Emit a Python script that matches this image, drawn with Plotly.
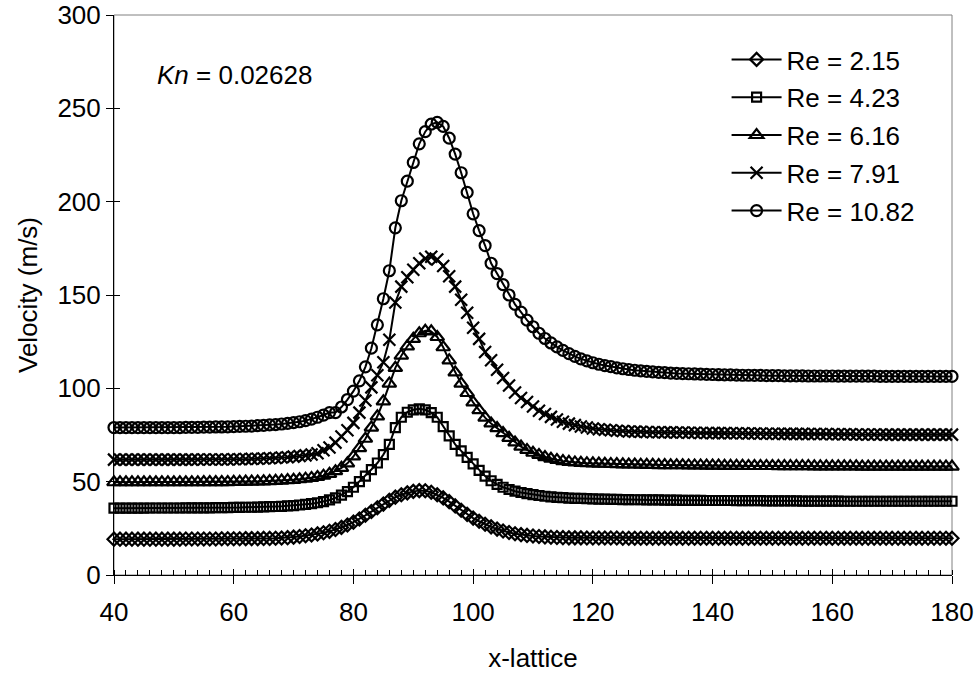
import plotly.graph_objects as go

# Lattice positions along the channel (one sample per lattice node)
x_lattice = list(range(40, 181))

reynolds_labels = ["Re = 2.15", "Re = 4.23", "Re = 6.16", "Re = 7.91", "Re = 10.82"]

vel_re_2_15 = [
    19.2, 19.2, 19.2, 19.2, 19.2, 19.2, 19.2, 19.2, 19.2, 19.2,
    19.2, 19.2, 19.3, 19.3, 19.3, 19.3, 19.3, 19.3, 19.4, 19.4,
    19.4, 19.4, 19.5, 19.5, 19.5, 19.6, 19.6, 19.7, 19.8, 20.0,
    20.3, 20.6, 21.0, 21.4, 22.0, 22.6, 23.4, 24.4, 25.5, 26.8,
    28.3, 30.0, 32.0, 34.0, 36.0, 38.0, 40.0, 41.7, 43.0, 44.0,
    44.8, 45.2, 45.1, 44.3, 43.0, 41.3, 39.3, 37.0, 34.7, 32.5,
    30.5, 28.8, 27.2, 25.8, 24.6, 23.6, 22.8, 22.1, 21.6, 21.2,
    20.9, 20.6, 20.4, 20.2, 20.1, 20.0, 19.9, 19.9, 19.9, 19.8,
    19.8, 19.8, 19.8, 19.8, 19.8, 19.7, 19.7, 19.7, 19.7, 19.7,
    19.7, 19.7, 19.7, 19.7, 19.7, 19.7, 19.7, 19.7, 19.7, 19.7,
    19.7, 19.7, 19.7, 19.7, 19.7, 19.7, 19.7, 19.7, 19.7, 19.7,
    19.7, 19.7, 19.7, 19.7, 19.7, 19.7, 19.7, 19.7, 19.7, 19.7,
    19.7, 19.7, 19.7, 19.7, 19.7, 19.7, 19.7, 19.7, 19.7, 19.7,
    19.7, 19.7, 19.7, 19.7, 19.7, 19.7, 19.7, 19.7, 19.7, 19.7,
    19.7,
]

vel_re_4_23 = [
    35.8, 35.8, 35.8, 35.8, 35.8, 35.8, 35.9, 35.9, 35.9, 35.9,
    35.9, 35.9, 36.0, 36.0, 36.0, 36.0, 36.0, 36.1, 36.1, 36.1,
    36.2, 36.2, 36.3, 36.3, 36.4, 36.5, 36.6, 36.7, 36.8, 37.0,
    37.2, 37.5, 37.8, 38.2, 38.7, 39.3, 40.2, 41.3, 42.8, 44.7,
    47.0, 50.0, 53.0, 56.5, 60.0, 64.5, 70.0, 79.0, 84.5, 87.2,
    88.5, 89.0, 88.5, 87.0, 84.5, 79.5, 74.5, 70.0, 66.5, 63.0,
    59.5, 56.0, 53.0, 50.5, 48.5, 47.0, 45.8, 44.9, 44.2, 43.6,
    43.1, 42.6, 42.2, 41.9, 41.6, 41.4, 41.2, 41.1, 41.0, 40.9,
    40.8, 40.7, 40.6, 40.5, 40.5, 40.4, 40.4, 40.3, 40.3, 40.2,
    40.2, 40.2, 40.1, 40.1, 40.1, 40.0, 40.0, 40.0, 40.0, 39.9,
    39.9, 39.9, 39.9, 39.9, 39.8, 39.8, 39.8, 39.8, 39.8, 39.7,
    39.7, 39.7, 39.7, 39.7, 39.7, 39.6, 39.6, 39.6, 39.6, 39.6,
    39.6, 39.6, 39.5, 39.5, 39.5, 39.5, 39.5, 39.5, 39.5, 39.5,
    39.5, 39.5, 39.5, 39.5, 39.5, 39.5, 39.5, 39.5, 39.5, 39.5,
    39.5,
]

vel_re_6_16 = [
    49.7, 49.7, 49.7, 49.7, 49.7, 49.7, 49.7, 49.7, 49.7, 49.7,
    49.7, 49.7, 49.7, 49.7, 49.7, 49.8, 49.8, 49.8, 49.8, 49.8,
    49.9, 49.9, 50.0, 50.0, 50.1, 50.2, 50.3, 50.4, 50.6, 50.8,
    51.0, 51.3, 51.6, 52.0, 52.5, 53.2, 54.2, 55.6, 57.4, 59.8,
    63.5, 68.0, 73.0, 79.0, 85.0, 93.0, 102.5, 111.0, 117.5, 122.5,
    126.5, 129.5, 130.8, 130.5, 127.5, 122.0, 115.0, 108.5, 102.5, 97.5,
    92.5, 88.3, 84.3, 81.2, 78.7, 76.0, 73.5, 71.0, 68.8, 67.0,
    65.5, 64.3, 63.2, 62.3, 61.6, 61.0, 60.6, 60.3, 60.1, 59.9,
    59.8, 59.7, 59.6, 59.5, 59.4, 59.3, 59.2, 59.2, 59.1, 59.0,
    59.0, 58.9, 58.9, 58.8, 58.8, 58.8, 58.7, 58.7, 58.7, 58.6,
    58.6, 58.6, 58.5, 58.5, 58.5, 58.5, 58.4, 58.4, 58.4, 58.4,
    58.4, 58.3, 58.3, 58.3, 58.3, 58.3, 58.3, 58.2, 58.2, 58.2,
    58.2, 58.2, 58.2, 58.2, 58.2, 58.1, 58.1, 58.1, 58.1, 58.1,
    58.1, 58.1, 58.1, 58.1, 58.1, 58.1, 58.1, 58.1, 58.1, 58.1,
    58.1,
]

vel_re_7_91 = [
    61.8, 61.8, 61.8, 61.8, 61.8, 61.8, 61.8, 61.8, 61.8, 61.8,
    61.8, 61.8, 61.8, 61.8, 61.9, 61.9, 61.9, 61.9, 61.9, 61.9,
    62.0, 62.0, 62.1, 62.2, 62.3, 62.4, 62.5, 62.7, 62.9, 63.1,
    63.4, 63.7, 64.1, 64.6, 65.2, 66.8, 68.3, 70.9, 74.2, 77.5,
    81.5, 87.0, 93.5, 100.5, 107.0, 114.0, 126.0, 146.0, 154.5, 159.5,
    163.5, 167.0, 169.5, 170.5, 169.0, 165.5, 160.0, 154.5, 147.5, 140.5,
    132.5, 126.5, 119.5, 115.0, 110.0, 105.5, 101.5, 97.8, 94.8, 92.7,
    90.3, 88.0, 86.2, 84.7, 83.3, 82.1, 81.1, 80.3, 79.6, 79.0,
    78.5, 78.1, 77.8, 77.5, 77.3, 77.1, 76.9, 76.8, 76.7, 76.6,
    76.5, 76.5, 76.4, 76.4, 76.3, 76.3, 76.2, 76.2, 76.1, 76.1,
    76.0, 76.0, 76.0, 75.9, 75.9, 75.9, 75.8, 75.8, 75.8, 75.7,
    75.7, 75.7, 75.6, 75.6, 75.6, 75.6, 75.5, 75.5, 75.5, 75.5,
    75.4, 75.4, 75.4, 75.4, 75.3, 75.3, 75.3, 75.3, 75.3, 75.2,
    75.2, 75.2, 75.2, 75.2, 75.2, 75.2, 75.2, 75.2, 75.2, 75.2,
    75.2,
]

vel_re_10_82 = [
    79.0, 79.0, 79.0, 79.0, 79.0, 79.0, 79.0, 79.0, 79.0, 79.0,
    79.0, 79.0, 79.1, 79.1, 79.1, 79.2, 79.2, 79.3, 79.3, 79.4,
    79.5, 79.6, 79.7, 79.8, 80.0, 80.2, 80.4, 80.6, 80.9, 81.2,
    81.6, 82.1, 82.7, 83.5, 84.5, 85.7, 87.0, 87.0, 90.0, 94.0,
    98.5, 104.0, 111.5, 121.5, 134.0, 148.0, 163.0, 186.0, 200.5, 211.0,
    221.0, 231.0, 237.5, 241.5, 242.5, 240.3, 234.0, 225.5, 215.5, 205.0,
    193.5, 184.5, 176.5, 167.0, 161.5, 155.6, 150.0, 145.0, 140.8, 136.5,
    133.0, 129.5, 126.7, 124.3, 122.2, 120.3, 118.6, 117.1, 115.8, 114.7,
    113.7, 112.9, 112.2, 111.6, 111.0, 110.5, 110.1, 109.7, 109.4, 109.1,
    108.8, 108.6, 108.4, 108.2, 108.0, 107.9, 107.8, 107.7, 107.6, 107.5,
    107.4, 107.3, 107.2, 107.2, 107.1, 107.0, 107.0, 106.9, 106.9, 106.8,
    106.8, 106.8, 106.7, 106.7, 106.7, 106.7, 106.6, 106.6, 106.6, 106.6,
    106.6, 106.5, 106.5, 106.5, 106.5, 106.5, 106.5, 106.5, 106.4, 106.4,
    106.4, 106.4, 106.4, 106.4, 106.4, 106.4, 106.4, 106.4, 106.4, 106.4,
    106.4,
]

series = [vel_re_2_15, vel_re_4_23, vel_re_6_16, vel_re_7_91, vel_re_10_82]
symbols = ["diamond-open", "square-open", "triangle-up-open", "x-thin-open", "circle-open"]
sizes = [10, 9, 12, 12, 11]

x_ticks = [40, 60, 80, 100, 120, 140, 160, 180]
y_ticks = [0, 50, 100, 150, 200, 250, 300]

FONT = "Liberation Sans, Arial, sans-serif"
FS = 26

fig = go.Figure()
for i, (label, vals, sym, sz) in enumerate(zip(reynolds_labels, series, symbols, sizes)):
    fig.add_trace(go.Scatter(
        x=x_lattice, y=vals, name=label, mode="lines+markers",
        legendgroup=f"g{i}",
        line=dict(color="black", width=2),
        marker=dict(symbol=sym, size=sz, color="black",
                    line=dict(color="black", width=2.2)),
        cliponaxis=False,
    ))

# Companion axes that add the inward half of each major tick
fig.add_trace(go.Scatter(x=[], y=[], xaxis="x2", yaxis="y2", showlegend=False,
                         hoverinfo="skip"))

fig.update_layout(
    width=978, height=673,
    margin=dict(l=114, r=26, t=15, b=98),
    paper_bgcolor="white", plot_bgcolor="white",
    font=dict(family=FONT, size=FS, color="black"),
    showlegend=True,
    legend=dict(x=0.731, y=0.9625, xanchor="left", yanchor="top",
                bgcolor="rgba(0,0,0,0)", font=dict(size=FS),
                tracegroupgap=1, itemwidth=50),
    xaxis=dict(range=[40, 180], tickvals=x_ticks, ticks="outside", ticklen=8,
               tickwidth=1, tickcolor="black", showline=True, linecolor="black",
               linewidth=1, showgrid=False, zeroline=False, automargin=False,
               tickfont=dict(size=FS), ticklabelstandoff=6,
               minor=dict(dtick=2, tick0=40, ticks="inside", ticklen=5,
                          tickwidth=1, tickcolor="black", showgrid=False),
               title=dict(text="x-lattice", font=dict(size=FS), standoff=28)),
    yaxis=dict(range=[0, 300], tickvals=y_ticks, ticks="outside", ticklen=7,
               tickwidth=1, tickcolor="black", showline=True, linecolor="black",
               linewidth=1, showgrid=False, zeroline=False, automargin=False,
               tickfont=dict(size=FS),
               title=dict(text="Velocity (m/s)", font=dict(size=FS), standoff=12)),
    xaxis2=dict(overlaying="x", anchor="y2", range=[40, 180], tickvals=x_ticks,
                ticks="inside", ticklen=6, tickcolor="black", showticklabels=False,
                showline=False, showgrid=False, zeroline=False, side="bottom",
                automargin=False),
    yaxis2=dict(overlaying="y", anchor="x2", range=[0, 300], tickvals=y_ticks,
                ticks="inside", ticklen=6, tickcolor="black", showticklabels=False,
                showline=False, showgrid=False, zeroline=False, side="left",
                automargin=False),
    shapes=[dict(type="rect", xref="paper", yref="paper", x0=0, y0=0, x1=1, y1=1,
                 line=dict(color="#808080", width=1), layer="below")],
    annotations=[dict(x=0.049, y=0.893, xref="paper", yref="paper",
                      xanchor="left", yanchor="middle", showarrow=False,
                      text="<i>Kn</i> = 0.02628", font=dict(size=FS))],
)

fig.write_html("out.html")
